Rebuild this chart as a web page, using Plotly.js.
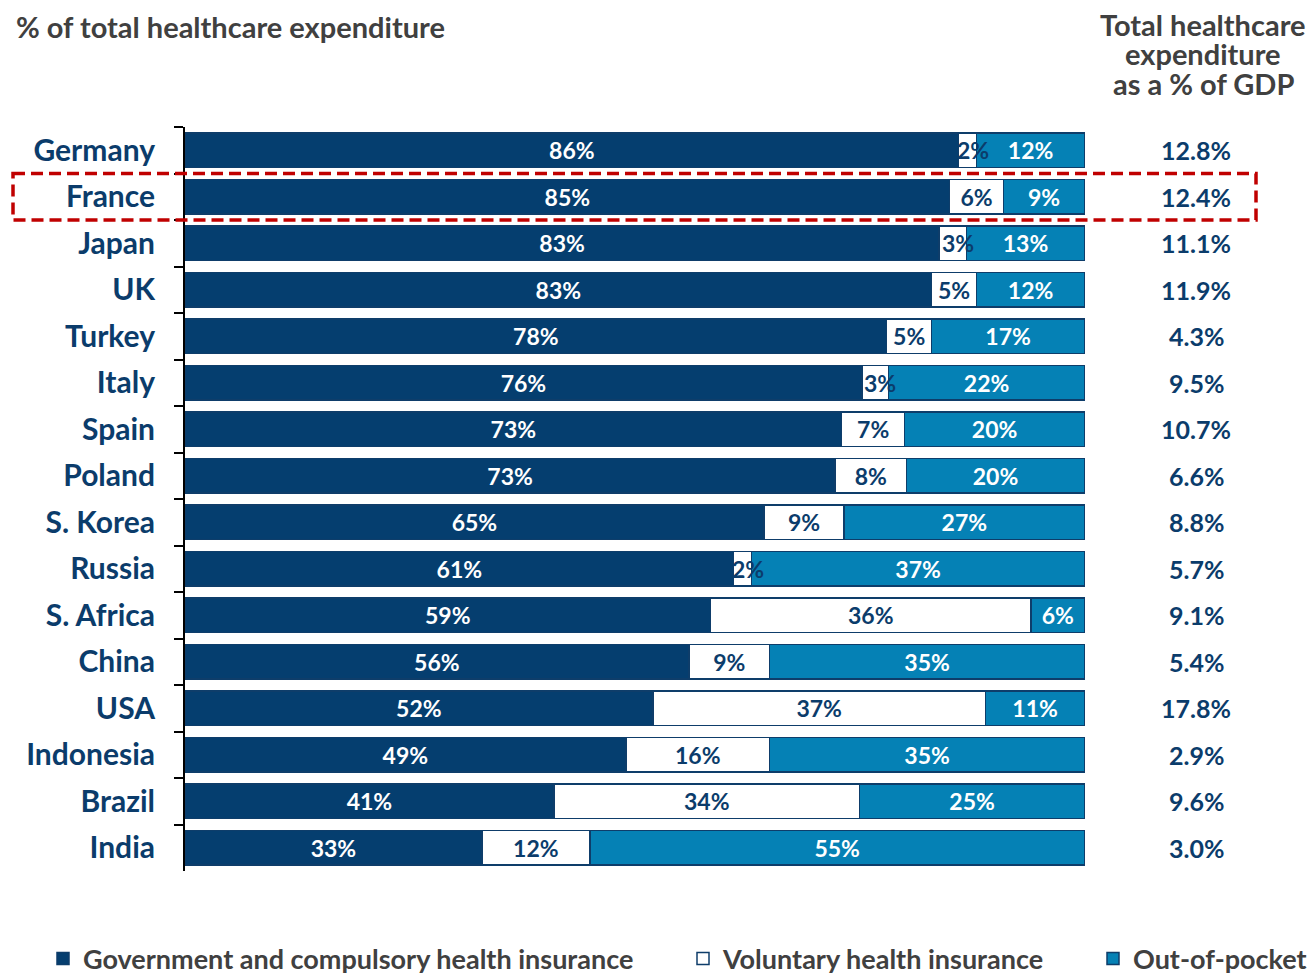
<!DOCTYPE html>
<html>
<head>
<meta charset="utf-8">
<script src="https://cdn.plot.ly/plotly-3.0.1.min.js"></script>
<style>
html,body{margin:0;padding:0;background:#fff;}
#chart{width:1312px;height:974px;}
</style>
</head>
<body>
<div id="chart"></div>
<script>
const countries = ["Germany","France","Japan","UK","Turkey","Italy","Spain","Poland","S. Korea","Russia","S. Africa","China","USA","Indonesia","Brazil","India"];
const government = [86,85,83,83,78,76,73,73,65,61,59,56,52,49,41,33];
const voluntary  = [2,6,3,5,5,3,7,8,9,2,36,9,37,16,34,12];
const outOfPocket= [12,9,13,12,17,22,20,20,27,37,6,35,11,35,25,55];
const gdpShare   = [12.8,12.4,11.1,11.9,4.3,9.5,10.7,6.6,8.8,5.7,9.1,5.4,17.8,2.9,9.6,3.0];
const seriesNames = ["Government and compulsory health insurance","Voluntary health insurance","Out-of-pocket"];
const titleText = "% of total healthcare expenditure";
const rightHeader = ["Total healthcare","expenditure","as a % of GDP"];
const highlighted = "France";

const NAVY = "#053E6F", LIGHT = "#0581B5", TXT = "#0B3C6B", GRAY = "#404040";
const FONT = "Lato, 'Open Sans', sans-serif";

// plot area geometry (pixels)
const PL = 185, PW = 900, PT = 127, PH = 744;
const px2x = p => (p - PL) / PW;
const px2y = p => (PT + PH - p) / PH;

const SMALL = 3; // voluntary labels that overflow their segment are drawn on top

function barTrace(name, vals, color, textColor, legendId, labels){
  return {
    type:"bar", orientation:"h", name:name, legend:legendId,
    y:countries, x:vals,
    text:labels || vals.map(v=>v+"%"),
    textposition:"inside", insidetextanchor:"middle",
    constraintext:"none", textangle:0,
    insidetextfont:{family:FONT, size:23, color:textColor, weight:700},
    marker:{color:color, line:{color:"#0E3D6A", width:1.5}},
    width:0.75, hoverinfo:"skip", cliponaxis:false
  };
}

const data = [
  barTrace(seriesNames[0], government, NAVY, "#ffffff", "legend"),
  barTrace(seriesNames[1], voluntary, "#ffffff", TXT, "legend2",
           voluntary.map(v => v <= SMALL ? "" : v+"%")),
  barTrace(seriesNames[2], outOfPocket, LIGHT, "#ffffff", "legend3")
];

const annotations = countries.map((c,i)=>({
  xref:"paper", yref:"y", x:px2x(1196), y:c, text:"<b>"+gdpShare[i].toFixed(1)+"%</b>",
  showarrow:false, xanchor:"center", yanchor:"middle",
  font:{family:FONT, size:25, color:TXT}
}));
// small voluntary labels, placed at the segment centre (data-derived), drawn above bars
countries.forEach((c,i)=>{
  if (voluntary[i] <= SMALL){
    const tot = government[i] + voluntary[i] + outOfPocket[i];
    const mid = (government[i] + voluntary[i]/2) / tot * 100;
    annotations.push({
      xref:"x", yref:"y", x:mid, y:c, xshift:5, text:"<b>"+voluntary[i]+"%</b>",
      showarrow:false, xanchor:"center", yanchor:"middle",
      font:{family:FONT, size:23, color:TXT}
    });
  }
});
annotations.push({
  xref:"paper", yref:"paper", x:px2x(14), y:px2y(27), xanchor:"left", yanchor:"middle",
  text:"<b>"+titleText+"</b>", showarrow:false,
  font:{family:FONT, size:29, color:GRAY}
});
rightHeader.forEach((t,k)=>{
  annotations.push({
    xref:"paper", yref:"paper", x:px2x(1203), y:px2y(24 + 30*k), xanchor:"center", yanchor:"middle",
    text:"<b>"+t+"</b>", showarrow:false,
    font:{family:FONT, size:29, color:GRAY}
  });
});

const hi = countries.indexOf(highlighted);
const shapes = [{
  type:"rect", xref:"paper", yref:"y", x0:px2x(13), x1:px2x(1256), y0:hi-0.5, y1:hi+0.5,
  line:{color:"#C00000", width:3.5, dash:"12px,6px"}, fillcolor:"rgba(0,0,0,0)", layer:"above"
}];

const legFont = {family:FONT, size:27, color:GRAY, weight:700};
function leg(px){
  return {orientation:"h", xref:"container", yref:"container", x:px/1312, xanchor:"left",
    y:15/974, yanchor:"middle", font:legFont, bgcolor:"rgba(0,0,0,0)"};
}

const layout = {
  width:1312, height:974,
  margin:{l:PL, r:1312-PL-PW, t:PT, b:974-PT-PH, autoexpand:false},
  paper_bgcolor:"#fff", plot_bgcolor:"#fff",
  barmode:"stack", barnorm:"percent",
  xaxis:{range:[0,100.05], visible:false, fixedrange:true},
  yaxis:{
    type:"category", autorange:"reversed",
    tickson:"boundaries", ticks:"outside", ticklen:9, tickwidth:2, tickcolor:"#000",
    showline:true, linecolor:"#000", linewidth:2, showgrid:false,
    ticklabelstandoff:22,
    tickfont:{family:FONT, size:30, color:TXT, weight:700}
  },
  showlegend:true,
  legend:leg(43), legend2:leg(683), legend3:leg(1093),
  annotations:annotations, shapes:shapes
};

Plotly.newPlot("chart", data, layout, {displayModeBar:false, staticPlot:true});
</script>
</body>
</html>
